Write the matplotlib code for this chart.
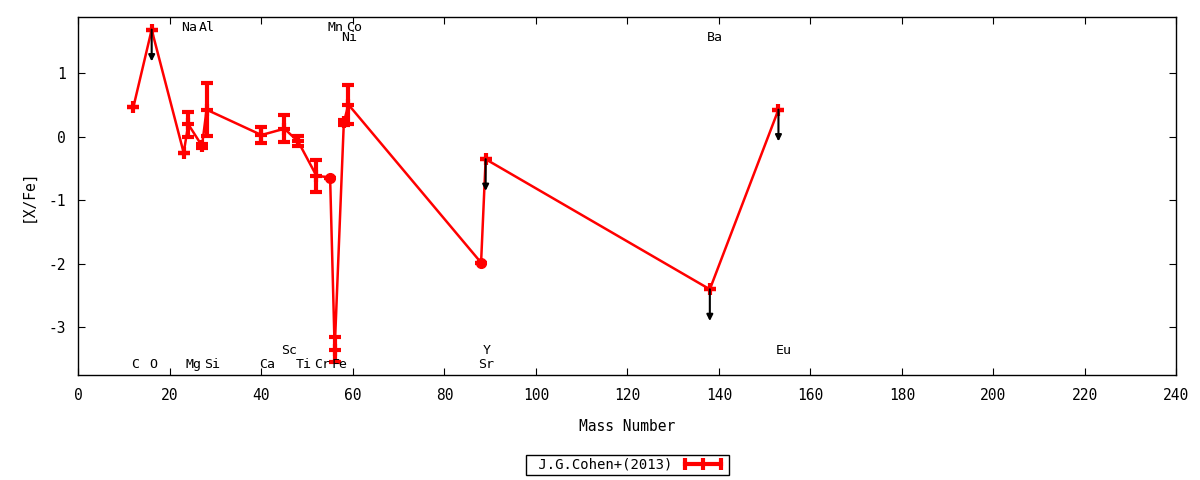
import matplotlib
matplotlib.use('Agg')
from matplotlib import pyplot as plt
from matplotlib.lines import Line2D
import numpy as np

plt.rcParams['font.family'] = ['DejaVu Sans Mono']
plt.rcParams['font.size'] = 10
plt.rcParams['axes.unicode_minus'] = False

# J.G.Cohen+(2013), ordered by mass number
elements = ['C', 'O', 'Na', 'Mg', 'Al', 'Si', 'Ca', 'Sc', 'Ti', 'Cr',
            'Mn', 'Fe', 'Ni', 'Co', 'Sr', 'Y', 'Ba', 'Eu']
mass = [12, 16, 23, 24, 27, 28, 40, 45, 48, 52, 55, 56, 58, 59, 88, 89, 138, 153]
xfe = [0.47, 1.69, -0.25, 0.20, -0.14, 0.43, 0.03, 0.13, -0.07, -0.61,
       -0.64, -3.35, 0.23, 0.51, -1.98, -0.35, -2.40, 0.43]
xfe_err = [0.0, 0.0, 0.0, 0.20, 0.03, 0.42, 0.13, 0.21, 0.08, 0.25,
           0.0, 0.20, 0.04, 0.31, 0.0, 0.0, 0.0, 0.0]
upper_limit = ['O', 'Y', 'Ba', 'Eu']
no_error = ['Mn', 'Sr']

# element label rows (text layout)
row_top = ['Na', 'Al', 'Mn', 'Co']
row_top2 = ['Ni', 'Ba']
row_bot2 = ['Sc', 'Y', 'Eu']

fig = plt.figure(figsize=(12, 4.8), dpi=100)
ax = fig.add_axes([0.0654, 0.2187, 0.915, 0.7453])

red = '#ff0000'
ax.plot(mass, xfe, color=red, lw=1.8, zorder=2)
ax.errorbar(mass, xfe, yerr=xfe_err, fmt='none', ecolor=red, elinewidth=3,
            capsize=4, capthick=3, zorder=3)
for m, v, el in zip(mass, xfe, elements):
    if el in no_error:
        ax.plot(m, v, 'o', color=red, ms=7, zorder=4)
    else:
        ax.plot(m, v, '+', color=red, ms=9, mew=3, zorder=4)
    if el in upper_limit:
        ax.annotate('', xy=(m, v - 0.5), xytext=(m, v),
                    arrowprops=dict(arrowstyle='-|>', color='black', lw=1.5,
                                    mutation_scale=9, shrinkA=0, shrinkB=0),
                    zorder=5)

    if el in row_top:
        ly = 1.72
    elif el in row_top2:
        ly = 1.56
    elif el in row_bot2:
        ly = -3.37
    else:
        ly = -3.59
    ax.text(m - 0.6, ly, el, ha='left', va='center', fontsize=9.5)

ax.set_xlim(0, 240)
ax.set_ylim(-3.75, 1.885)
ax.set_xticks(np.arange(0, 241, 20))
ax.set_yticks([-3, -2, -1, 0, 1])
ax.tick_params(direction='in', length=5, top=True, right=True, pad=9,
               labelsize=10.5)
for s in ax.spines.values():
    s.set_linewidth(1)
ax.set_xlabel('Mass Number', labelpad=12, fontsize=10.5)
ax.set_ylabel('[X/Fe]', labelpad=9, fontsize=10.5)

handle = Line2D([], [], color=red, lw=3, marker='|', ms=9, mew=3)
leg = fig.legend([handle], [' J.G.Cohen+(2013)'], loc='center',
                 bbox_to_anchor=(627.5 / 1200, 1 - 465 / 480), markerfirst=False,
                 numpoints=3, fancybox=False, edgecolor='black', framealpha=1,
                 handlelength=3.2, borderpad=0.25, borderaxespad=0,
                 fontsize=10, handletextpad=0.6)
leg.get_frame().set_linewidth(1)

fig.savefig('out.png', dpi=100)
